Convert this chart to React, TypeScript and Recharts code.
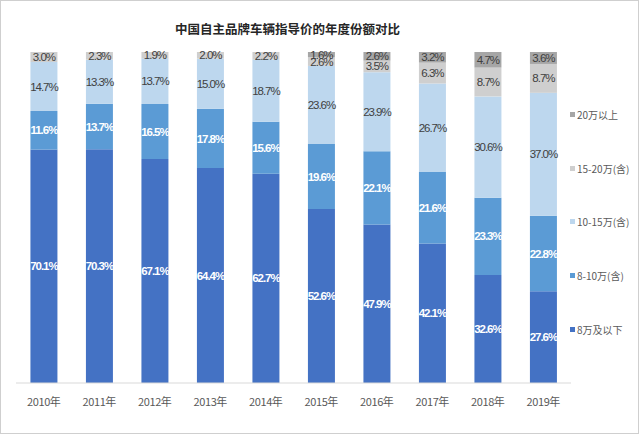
import React from "react";
import { BarChart, Bar, XAxis, YAxis, LabelList } from "recharts";

const years = ["2010年", "2011年", "2012年", "2013年", "2014年", "2015年", "2016年", "2017年", "2018年", "2019年"];
const under8 = [70.1, 70.3, 67.1, 64.4, 62.7, 52.6, 47.9, 42.1, 32.6, 27.6];
const from8to10 = [11.6, 13.7, 16.5, 17.8, 15.6, 19.6, 22.1, 21.6, 23.3, 22.8];
const from10to15 = [14.7, 13.3, 13.7, 15.0, 18.7, 23.6, 23.9, 26.7, 30.6, 37.0];
const from15to20 = [3.0, 2.3, 1.9, 2.0, 2.2, 2.6, 3.5, 6.3, 8.7, 8.7];
const over20 = [0, 0, 0, 0, 0, 1.6, 2.6, 3.2, 4.7, 3.6];

const series = [
  { key: "s1", name: "8万及以下", values: under8, color: "#4472C4", label: "#ffffff", bold: true },
  { key: "s2", name: "8-10万(含)", values: from8to10, color: "#5B9BD5", label: "#ffffff", bold: true },
  { key: "s3", name: "10-15万(含)", values: from10to15, color: "#BDD7EE", label: "#404040", bold: false },
  { key: "s4", name: "15-20万(含)", values: from15to20, color: "#CFCFCF", label: "#404040", bold: false },
  { key: "s5", name: "20万以上", values: over20, color: "#A6A6A6", label: "#404040", bold: false },
];

const data = years.map((year, i) => {
  const row: Record<string, string | number> = { year };
  series.forEach((s) => (row[s.key] = s.values[i]));
  return row;
});

const font = '"Liberation Sans", "Noto Sans CJK SC", sans-serif';

function SideLegend() {
  return (
    <div style={{ position: "absolute", left: 570, top: 107, fontFamily: '"Noto Sans CJK SC", sans-serif', fontSize: 10, color: "#595959" }}>
      {[...series].reverse().map((s) => (
        <div key={s.key} style={{ height: 53.7, display: "flex", alignItems: "flex-start" }}>
          <span style={{ display: "inline-block", width: 5, height: 5, background: s.color, marginTop: 5, marginRight: 2 }} />
          <span>{s.name}</span>
        </div>
      ))}
    </div>
  );
}

export default function App() {
  return (
    <div style={{ position: "fixed", left: 0, top: 0, width: 639, height: 434, background: "#fff" }}>
      <div style={{ position: "absolute", inset: 0, border: "1px solid #cfcfcf", boxSizing: "border-box" }} />
      <div
        style={{
          position: "absolute",
          top: 19,
          left: 0,
          width: 575,
          textAlign: "center",
          fontFamily: '"Noto Sans CJK SC", sans-serif',
          fontSize: 12.5,
          fontWeight: "bold",
          color: "#262626",
        }}
      >
        中国自主品牌车辆指导价的年度份额对比
      </div>
      <BarChart
        width={639}
        height={434}
        data={data}
        stackOffset="expand"
        barCategoryGap="26%"
        margin={{ top: 52, right: 68, left: 16, bottom: 0 }}
      >
        <XAxis
          dataKey="year"
          height={51}
          tickLine={false}
          axisLine={{ stroke: "#d9d9d9" }}
          tickMargin={9}
          tick={{ fontSize: 11, fill: "#595959", fontFamily: '"Noto Sans CJK SC", sans-serif', letterSpacing: -0.4 }}
        />
        <YAxis hide domain={[0, 1]} />
        {series.map((s) => (
          <Bar key={s.key} dataKey={s.key} name={s.name} stackId="a" fill={s.color} isAnimationActive={false}>
            <LabelList
              dataKey={s.key}
              position="center"
              formatter={(v: any) => (v ? `${Number(v).toFixed(1)}%` : "")}
              style={{
                fontSize: 11.5,
                fill: s.label,
                fontWeight: s.bold ? "bold" : "normal",
                fontFamily: font,
                letterSpacing: -1,
              }}
            />
          </Bar>
        ))}
      </BarChart>
      <SideLegend />
    </div>
  );
}
